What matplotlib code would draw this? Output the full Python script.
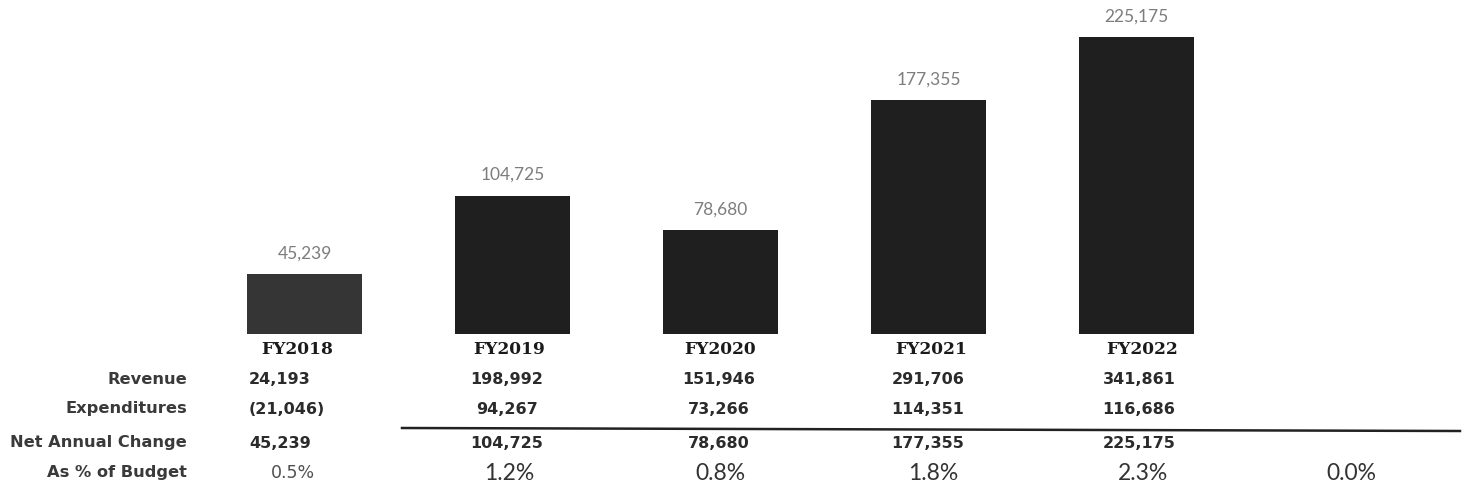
import matplotlib
matplotlib.use("Agg")
import matplotlib.pyplot as plt
import matplotlib.transforms as mtransforms

# Fund balance summary by fiscal year
years = ["FY2018", "FY2019", "FY2020", "FY2021", "FY2022"]
net_change = [45239, 104725, 78680, 177355, 225175]
revenue = ["24,193", "198,992", "151,946", "291,706", "341,861"]
expenditures = ["(21,046)", "94,267", "73,266", "114,351", "116,686"]
net_labels = ["45,239", "104,725", "78,680", "177,355", "225,175"]
pct_budget = ["0.5%", "1.2%", "0.8%", "1.8%", "2.3%", "0.0%"]
row_labels = ["Revenue", "Expenditures", "Net Annual Change", "As % of Budget"]

W, H = 1464, 491
fig = plt.figure(figsize=(W / 100, H / 100), dpi=100)
fig.patch.set_facecolor("white")

# bar area: baseline at y=334 px from top, categories 208 px apart
base_px = 334
ax = fig.add_axes([0, (H - base_px) / H, 1, base_px / H])
slot = 208.0
first_center = 304.5
ax.set_xlim(-first_center / slot, (W - first_center) / slot)
ax.set_ylim(0, base_px / 0.001319)
ax.axis("off")

bar_colors = ["#353535", "#1f1f1f", "#1f1f1f", "#1f1f1f", "#1f1f1f"]
xs = list(range(len(years)))
bars = ax.bar(xs, net_change, width=0.553, color=bar_colors, edgecolor="none")
for b, lab in zip(bars, net_labels):
    ax.annotate(lab, (b.get_x() + b.get_width() / 2, b.get_height()),
                xytext=(0, 15), textcoords="offset points",
                ha="center", va="center", fontsize=12.5, color="#7d7d7d",
                family="Lato")

# table beneath the bars, x in category units, y in figure pixels
tr = mtransforms.blended_transform_factory(ax.transData, fig.transFigure)

def fy(px):
    return 1 - px / H

def cx(px):
    return (px - first_center) / slot

txt_color = "#2b2b2b"
header_px = [297, 509, 720, 931, 1142]
for i, y in enumerate(years):
    ax.text(cx(header_px[i]), fy(350), y, transform=tr, ha="center", va="center",
            fontsize=12.3, fontweight="bold", color="#1a1a1a", family="DejaVu Serif")

rows_y = [379, 409, 443, 473]
for label, ypx in zip(row_labels, rows_y):
    fig.text(187 / W, fy(ypx), label, ha="right", va="center",
             fontsize=11.7, fontweight="bold", color="#3a3a3a", family="DejaVu Sans")

value_px = [249, 507, 719, 928, 1139]
for vals, ypx in zip([revenue, expenditures, net_labels], rows_y[:3]):
    for i, v in enumerate(vals):
        ha = "left" if i == 0 else "center"
        ax.text(cx(value_px[i]), fy(ypx), v, transform=tr, ha=ha, va="center",
                fontsize=11.5, fontweight="bold", color=txt_color, family="DejaVu Sans")

pct_px = [293, 509, 720, 933, 1143, 1351]
for i, v in enumerate(pct_budget):
    if i == 0:
        ax.text(cx(pct_px[i]), fy(rows_y[3]), v, transform=tr, ha="center", va="center",
                fontsize=12.5, color="#505050", family="DejaVu Sans")
    else:
        ax.text(cx(pct_px[i]), fy(rows_y[3]), v, transform=tr, ha="center", va="center",
                fontsize=16.5, color="#333333", family="Lato")

# subtotal rule above the net change row
fig.add_artist(plt.Line2D([402 / W, 1460 / W], [fy(428), fy(431)],
                          color="#222222", linewidth=1.8))

fig.savefig("out.png", dpi=100, facecolor="white")
